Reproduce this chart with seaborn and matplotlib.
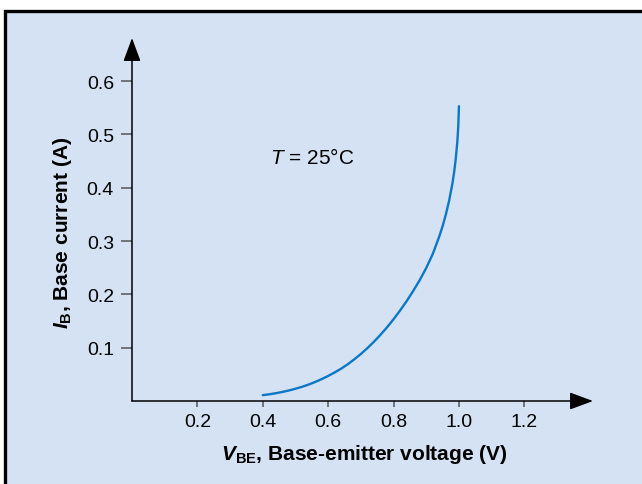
import matplotlib
matplotlib.use("Agg")
import matplotlib.pyplot as plt
from matplotlib.patches import Rectangle
import pandas as pd
import seaborn as sns

# ---- data ----
vbe = [0.400, 0.420, 0.440, 0.460, 0.480, 0.500, 0.520, 0.540, 0.560, 0.580,
       0.600, 0.620, 0.640, 0.660, 0.680, 0.700, 0.720, 0.740, 0.760, 0.780,
       0.800, 0.820, 0.840, 0.860, 0.880, 0.900, 0.920, 0.940, 0.950, 0.960,
       0.970, 0.980, 0.985, 0.990, 0.995, 0.998, 1.000]
ib = [0.0110, 0.0126, 0.0146, 0.0170, 0.0198, 0.0230, 0.0266, 0.0308, 0.0356,
      0.0410, 0.0470, 0.0536, 0.0608, 0.0690, 0.0782, 0.0882, 0.0992, 0.1112,
      0.1242, 0.1382, 0.1534, 0.1698, 0.1874, 0.2064, 0.2268, 0.2496, 0.2760,
      0.3090, 0.3280, 0.3500, 0.3760, 0.4080, 0.4280, 0.4530, 0.4860, 0.5160,
      0.5530]
x_ticks = [0.2, 0.4, 0.6, 0.8, 1.0, 1.2]
x_ticklabels = ["0.2", "0.4", "0.6", "0.8", "1.0", "1.2"]
y_ticks = [0.1, 0.2, 0.3, 0.4, 0.5, 0.6]
y_ticklabels = ["0.1", "0.2", "0.3", "0.4", "0.5", "0.6"]
x_label = r"$\mathbfit{V}_{\mathbf{BE}}$, Base-emitter voltage (V)"
y_label = r"$\mathbfit{I}_{\mathbf{B}}$, Base current (A)"
note = r"$\mathit{T}$ = 25°C"

sns.set_theme(style="white")
plt.rcParams["font.family"] = ["Liberation Sans", "DejaVu Sans"]
plt.rcParams["mathtext.fontset"] = "custom"
plt.rcParams["mathtext.rm"] = "Liberation Sans"
plt.rcParams["mathtext.it"] = "Liberation Sans:italic"
plt.rcParams["mathtext.bf"] = "Liberation Sans:bold"
plt.rcParams["mathtext.bfit"] = "Liberation Sans:bold:italic"

BG = "#d5e2f3"
W, H = 642, 485
fig = plt.figure(figsize=(W / 100, H / 100), dpi=100, facecolor="white")
fig.add_artist(Rectangle((5.5 / W, -0.05), 1.1, 473.5 / H + 0.05,
                         transform=fig.transFigure, facecolor=BG,
                         edgecolor="black", lw=2.4, zorder=0))

ax = fig.add_axes([132 / W, 83 / H, 461 / W, 363 / H])
ax.patch.set_visible(False)

df = pd.DataFrame({"VBE": vbe, "IB": ib})
sns.lineplot(data=df, x="VBE", y="IB", ax=ax, color="#0a78c6", lw=1.7,
             estimator=None, sort=False)

ax.set_xlim(0, 1.41)
ax.set_ylim(0, 0.681)
for s in ax.spines.values():
    s.set_visible(False)

ax.set_xticks(x_ticks, x_ticklabels)
ax.set_yticks(y_ticks, y_ticklabels)
ax.tick_params(axis="x", direction="out", length=4, width=1.1, color="#555555",
               pad=5, labelsize=14, labelcolor="black", bottom=True)
ax.tick_params(axis="y", direction="out", length=8, width=1.1, color="#555555",
               pad=5, labelsize=14, labelcolor="black", left=True)
ax.set_xlabel("")
ax.set_ylabel("")

arrow_kw = dict(arrowstyle="-|>,head_length=1.0,head_width=0.37",
                mutation_scale=14.4, color="black", lw=1.1,
                shrinkA=0, shrinkB=0)
ax.annotate("", xy=(1.41, 0), xytext=(0, 0), arrowprops=arrow_kw,
            annotation_clip=False)
ax.annotate("", xy=(0, 0.681), xytext=(0, 0), arrowprops=arrow_kw,
            annotation_clip=False)

ax.text(0.422, 0.4465, note, fontsize=15, color="black",
        ha="left", va="baseline")
ax.text(0.503, -0.1598, x_label, transform=ax.transAxes, fontsize=15,
        fontweight="bold", color="black", ha="center", va="baseline")
ax.text(-0.1497, 0.4656, y_label, transform=ax.transAxes, fontsize=15,
        fontweight="bold", color="black", ha="center", va="center",
        rotation=90)

fig.savefig("out.png", dpi=100, facecolor="white")
